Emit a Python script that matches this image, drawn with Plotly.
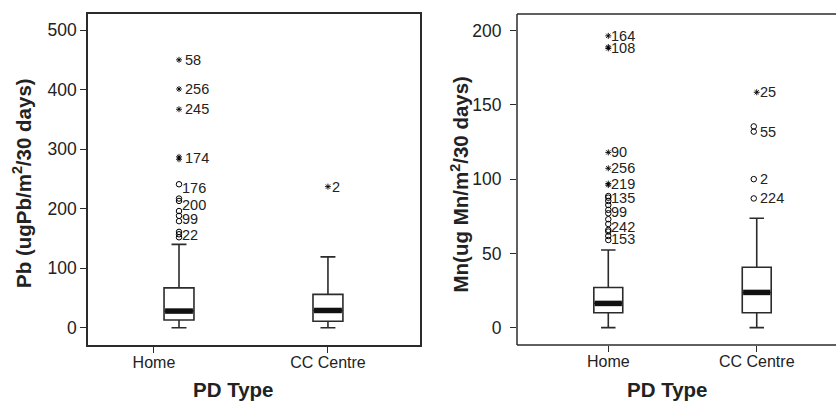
import plotly.graph_objects as go

# ---------------- data ----------------
categories = ["Home", "CC Centre"]

# Pb panel box statistics (ugPb/m2/30 days)
pb_q1 = [13, 11]
pb_median = [28, 29]
pb_q3 = [67, 56]
pb_low = [0, 0]
pb_high = [140, 119]

# Pb outliers
pb_home_extreme = [450, 401, 367, 283, 287]          # stars
pb_home_outlier = [241, 217, 213, 196, 188, 179, 161, 157, 152]  # circles
pb_cc_extreme = [237]
pb_home_label_vals = [450, 401, 367, 285]
pb_home_label_txt = ["58", "256", "245", "174"]
pb_home_clabel_vals = [235, 207, 182, 155]
pb_home_clabel_txt = ["176", "200", "99", "22"]
pb_cc_label_vals = [237]
pb_cc_label_txt = ["2"]

# Mn panel box statistics (ug Mn/m2/30 days)
mn_q1 = [10, 10]
mn_median = [16.3, 23.7]
mn_q3 = [27, 40.7]
mn_low = [0, 0]
mn_high = [52.3, 73.7]

# Mn outliers
mn_home_extreme = [196.5, 188, 189, 118, 107.3, 96, 97]
mn_home_outlier = [88.6, 87.5, 85.3, 82.6, 79.3, 77, 73, 69.8, 65.8, 64.7, 61.7, 59]
mn_cc_extreme = [158.5]
mn_cc_outlier = [135.5, 132, 100, 87]
mn_home_label_vals = [196.5, 188.5, 118, 107.5, 97, 87.5, 78, 68, 60]
mn_home_label_txt = ["164", "108", "90", "256", "219", "135", "99", "242", "153"]
mn_cc_label_vals = [158.5, 132, 100, 87]
mn_cc_label_txt = ["25", "55", "2", "224"]

# ---------------- layout constants ----------------
W, H = 836, 401
FONT = "Liberation Sans, Arial, sans-serif"
INK = "#222222"
LINE = "#2b2b2b"

left_pos = [0.144, 1.0]    # box centres on left panel
right_pos = [0.0, 1.0]     # box centres on right panel
left_bw = 0.172
right_bw = 0.195

fig = go.Figure()


def add_panel(xa, ya, pos, bw, q1, med, q3, lo, hi):
    for i in range(len(pos)):
        fig.add_trace(go.Box(
            x=[pos[i]], q1=[q1[i]], median=[med[i]], q3=[q3[i]],
            lowerfence=[lo[i]], upperfence=[hi[i]],
            width=bw, whiskerwidth=0.5,
            fillcolor="white", line=dict(color=LINE, width=1.6),
            boxpoints=False, xaxis=xa, yaxis=ya, showlegend=False,
            hoverinfo="skip"))
        fig.add_trace(go.Scatter(
            x=[pos[i] - bw / 2 + 0.006, pos[i] + bw / 2 - 0.006], y=[med[i], med[i]],
            mode="lines", line=dict(color="#111111", width=5.5),
            xaxis=xa, yaxis=ya, showlegend=False, hoverinfo="skip"))


def add_points(xa, ya, xpos, vals, symbol, size, lw):
    fig.add_trace(go.Scatter(
        x=[xpos] * len(vals), y=vals, mode="markers",
        marker=dict(symbol=symbol, size=size, color="black",
                    line=dict(color="black", width=lw)),
        xaxis=xa, yaxis=ya, showlegend=False, hoverinfo="skip"))


def add_labels(xr, yr, xpos, vals, txt, shift):
    for v, t in zip(vals, txt):
        fig.add_annotation(x=xpos, y=v, xref=xr, yref=yr, text=t,
                           showarrow=False, xanchor="left", yanchor="middle",
                           xshift=shift, borderpad=0,
                           font=dict(family=FONT, size=14.5, color=INK))


# Left panel (Pb)
add_panel("x", "y", left_pos, left_bw, pb_q1, pb_median, pb_q3, pb_low, pb_high)
add_points("x", "y", left_pos[0], pb_home_outlier, "circle-open", 5.5, 1.0)
add_points("x", "y", left_pos[0], pb_home_extreme, "asterisk-open", 5, 0.9)
add_points("x", "y", left_pos[1], pb_cc_extreme, "asterisk-open", 5, 0.9)
add_labels("x", "y", left_pos[0], pb_home_label_vals, pb_home_label_txt, 5)
add_labels("x", "y", left_pos[0], pb_home_clabel_vals, pb_home_clabel_txt, 2)
add_labels("x", "y", left_pos[1], pb_cc_label_vals, pb_cc_label_txt, 3)

# Right panel (Mn)
add_panel("x2", "y2", right_pos, right_bw, mn_q1, mn_median, mn_q3, mn_low, mn_high)
add_points("x2", "y2", right_pos[0], mn_home_outlier, "circle-open", 5.5, 1.0)
add_points("x2", "y2", right_pos[0], mn_home_extreme, "asterisk-open", 5, 0.9)
add_points("x2", "y2", right_pos[1] - 0.02, mn_cc_outlier, "circle-open", 5.5, 1.0)
add_points("x2", "y2", right_pos[1], mn_cc_extreme, "asterisk-open", 5, 0.9)
add_labels("x2", "y2", right_pos[0], mn_home_label_vals, mn_home_label_txt, 2)
add_labels("x2", "y2", right_pos[1], mn_cc_label_vals, mn_cc_label_txt, 2)

axis_common = dict(showgrid=False, zeroline=False, ticks="outside",
                   ticklen=6, tickwidth=1.3, tickcolor=LINE)
line_on = dict(showline=True, linecolor=LINE, linewidth=1.5)

ydom = [1 - 345 / H, 1 - 14 / H]

fig.update_layout(
    width=W, height=H, margin=dict(l=0, r=0, t=0, b=0),
    paper_bgcolor="white", plot_bgcolor="white",
    font=dict(family=FONT, color=INK),
    xaxis=dict(domain=[88 / W, 420 / W], range=[-0.379, 1.529],
               tickvals=[0, 1], ticktext=categories, mirror=True,
               tickfont=dict(size=16), anchor="y", ticklabelstandoff=-4,
               **axis_common, **line_on),
    yaxis=dict(domain=ydom, range=[-29, 527], tickvals=[0, 100, 200, 300, 400, 500],
               mirror=True, tickfont=dict(size=17.5), anchor="x",
               ticklabelstandoff=0, **axis_common, **line_on),
    xaxis2=dict(domain=[517 / W, 1.0], range=[-0.615, 1.534],
                tickvals=[0, 1], ticktext=categories, showline=False,
                tickfont=dict(size=16), anchor="y2", ticklabelstandoff=-4,
                **axis_common),
    yaxis2=dict(domain=ydom, range=[-11.7, 211.2], tickvals=[0, 50, 100, 150, 200],
                showline=False, tickfont=dict(size=17.5), anchor="x2",
                ticklabelstandoff=5, **axis_common),
)

# Right panel frame: top, bottom and left sides (its right side lies outside the picture)
frame_line = dict(color=LINE, width=1.5)
fig.add_shape(type="line", xref="x2 domain", yref="y2 domain",
              x0=0, x1=1, y0=1, y1=1, line=frame_line)
fig.add_shape(type="line", xref="x2 domain", yref="y2 domain",
              x0=0, x1=1, y0=0, y1=0, line=frame_line)
fig.add_shape(type="line", xref="x2 domain", yref="y2 domain",
              x0=0, x1=0, y0=0, y1=1, line=frame_line)

title_font = dict(family=FONT, size=20.5, color=INK, weight="bold")
for tx, ty, txt, ang in [
    (22, 183, "Pb (ugPb/m<sup>2</sup>/30 days)", -90),
    (459.5, 185, "Mn(ug Mn/m<sup>2</sup>/30 days)", -90),
    (233.5, 389, "PD Type", 0),
    (667, 389, "PD Type", 0),
]:
    fig.add_annotation(x=tx / W, y=1 - ty / H, xref="paper", yref="paper",
                       text=txt, textangle=ang, showarrow=False,
                       xanchor="center", yanchor="middle", font=title_font)

fig.write_html("out.html", config={"displayModeBar": False},
               post_script="document.body.style.margin='0';document.body.style.overflow='hidden';")
